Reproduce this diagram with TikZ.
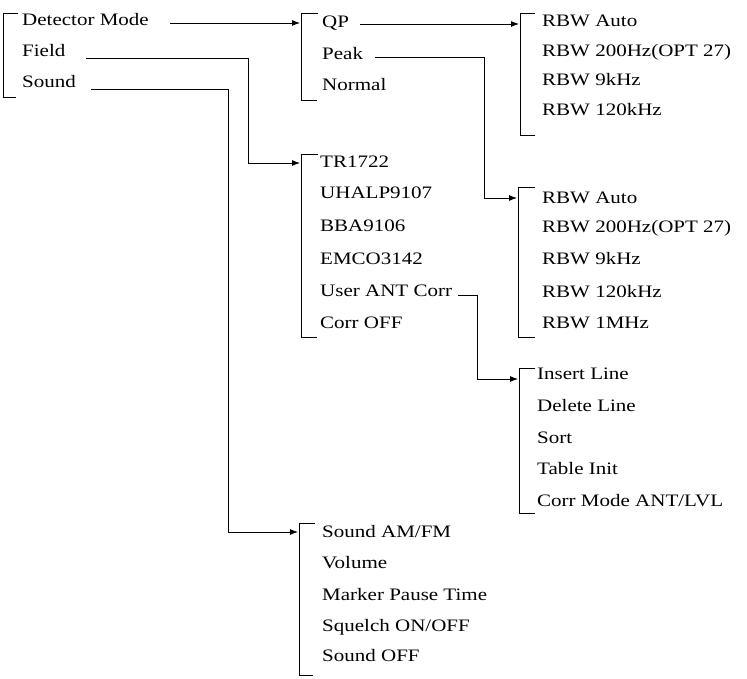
\documentclass[tikz,border=0pt]{standalone}
\usepackage{fontspec}
\setmainfont{Liberation Serif}[FakeStretch=1.2]
\usetikzlibrary{arrows.meta}
\begin{document}
\begin{tikzpicture}[x=1pt,y=-1pt,
  item/.style={anchor=base west, inner sep=0pt, font=\fontsize{17.5}{20}\selectfont},
  conn/.style={line width=0.9pt, -{Latex[length=8pt,width=6pt]}},
  brk/.style={line width=0.9pt}]
\useasboundingbox (0,0) rectangle (747,679);

% column 1
\node[item] (dm) at (22,26) {Detector Mode};
\node[item] (fi) at (22,57) {Field};
\node[item] (so) at (22,88) {Sound};
\draw[brk] (18,13) -- (3,13) -- (3,97) -- (16,97);

% detector modes
\node[item] (qp) at (322,28) {QP};
\node[item] (pk) at (322,60) {Peak};
\node[item] (no) at (322,91) {Normal};
\draw[brk] (318,13) -- (301,13) -- (301,100) -- (317,100);

% RBW list 1
\node[item] (ra1) at (542,27) {RBW Auto};
\node[item] (rb1) at (542,57) {RBW 200Hz(OPT 27)};
\node[item] (rc1) at (542,86) {RBW 9kHz};
\node[item] (rd1) at (542,116) {RBW 120kHz};
\draw[brk] (535,13) -- (520,13) -- (520,135) -- (535,135);

% field list
\node[item] (tr) at (320,168) {TR1722};
\node[item] (uh) at (320,199) {UHALP9107};
\node[item] (bb) at (320,232) {BBA9106};
\node[item] (em) at (320,264) {EMCO3142};
\node[item] (ua) at (320,296) {User ANT Corr};
\node[item] (co) at (320,328) {Corr OFF};
\draw[brk] (318,154) -- (301,154) -- (301,337) -- (317,337);

% RBW list 2
\node[item] (ra2) at (542,204) {RBW Auto};
\node[item] (rb2) at (542,233) {RBW 200Hz(OPT 27)};
\node[item] (rc2) at (542,265) {RBW 9kHz};
\node[item] (rd2) at (542,297) {RBW 120kHz};
\node[item] (re2) at (542,328) {RBW 1MHz};
\draw[brk] (535,187) -- (518,187) -- (518,337) -- (535,337);

% user ant corr list
\node[item] (il) at (537,379) {Insert Line};
\node[item] (dl) at (537,411) {Delete Line};
\node[item] (st) at (537,443) {Sort};
\node[item] (ti) at (537,474) {Table Init};
\node[item] (cm) at (537,506) {Corr Mode ANT/LVL};
\draw[brk] (535,368) -- (519,368) -- (519,513) -- (535,513);

% sound list
\node[item] (sa) at (322,537) {Sound AM/FM};
\node[item] (vo) at (322,568) {Volume};
\node[item] (mp) at (322,600) {Marker Pause Time};
\node[item] (sq) at (322,631) {Squelch ON/OFF};
\node[item] (sf) at (322,661) {Sound OFF};
\draw[brk] (315,523) -- (299,523) -- (299,675) -- (313,675);

% connector end points
\coordinate (dmo) at (170,23);  \coordinate (qpi) at (300,23);
\coordinate (fio) at (86,58);   \coordinate (tri) at (300,163);
\coordinate (soo) at (91,89);   \coordinate (sai) at (298,532);
\coordinate (qpo) at (360,24);  \coordinate (rai) at (519,24);
\coordinate (pko) at (375,57);  \coordinate (rbi) at (517,198);
\coordinate (uao) at (458,295); \coordinate (ili) at (518,379);

\draw[conn] (dmo) -- (qpi);
\draw[conn] (fio) -| (248,163) -- (tri);
\draw[conn] (soo) -| (228,532) -- (sai);
\draw[conn] (qpo) -- (rai);
\draw[conn] (pko) -| (484,198) -- (rbi);
\draw[conn] (uao) -| (477,379) -- (ili);
\end{tikzpicture}
\end{document}
